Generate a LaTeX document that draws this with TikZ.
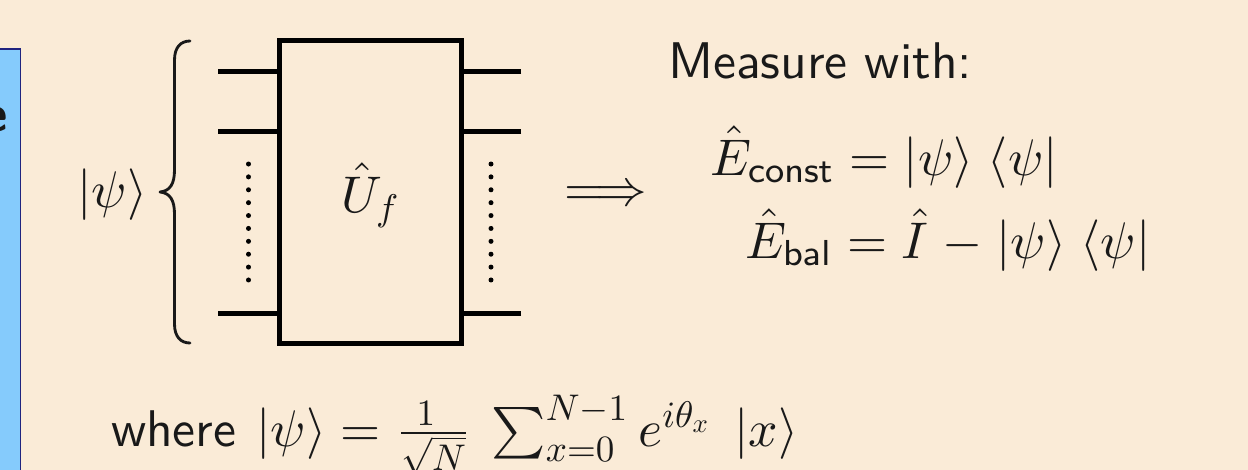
\documentclass[tikz,border=0pt]{standalone}
\usepackage{amsmath}
\usepackage{graphicx}
\usetikzlibrary{calc}
\definecolor{bgc}{HTML}{FAEBD7}
\definecolor{panel}{HTML}{85CBFC}
\definecolor{panelb}{HTML}{1F237F}
\renewcommand{\familydefault}{\sfdefault}
\newcommand{\sm}[1]{\scalebox{.72}{$#1$}}
\tikzset{
  wire/.style={line width=0.97pt},
  ubox/.style={draw,line width=0.97pt,minimum width=35.4pt,minimum height=58.6pt,inner sep=0pt},
  vdots/.style={line width=0.97pt,line cap=round,dash pattern=on 0pt off 2.5pt},
  lab/.style={inner sep=0pt,anchor=base west,text=black!90}
}
\begin{document}
\begin{tikzpicture}[x=0.194pt,y=-0.194pt]
\useasboundingbox (0,0) rectangle (1248,470);
\fill[bgc] (0,0) rectangle (1248,470);
\draw[panelb,line width=0.35pt,fill=panel] (-10,49) rectangle (20.5,480);
\begin{scope}
\clip (0,0) rectangle (1248,470);
\node[lab] (e) at (-20,131) {\textbf{e}};
\end{scope}
\node[ubox] (u) at (370.5,192) {};
\node[lab] (ulab) at (340,212) {$\hat U_{\sm{f}}$};
\coordinate (ia) at (218,71);
\coordinate (ib) at (218,131);
\coordinate (ic) at (218,313);
\coordinate (oa) at (521,71);
\coordinate (ob) at (521,131);
\coordinate (oc) at (521,313);
\foreach \w in {ia,ib,ic} \draw[wire] (\w) -- (\w -| u.west);
\foreach \w in {oa,ob,oc} \draw[wire] (\w) -- (\w -| u.east);
\coordinate (da) at (248.5,164);
\coordinate (db) at (248.5,281);
\coordinate (dc) at (491,164);
\coordinate (dd) at (491,281);
\draw[vdots] (da) -- (db);
\draw[vdots] (dc) -- (dd);
\coordinate (bt) at (190,41);
\coordinate (bb) at (190,343);
\coordinate (bm) at (160,192);
\draw[line width=0.55pt,black!90,line cap=round,line join=round]
  (bt) .. controls (181,41) and (174.5,47) .. (174.5,60)
  -- (174.5,170) .. controls (174.5,184) and (170,191) .. (bm)
  .. controls (170,193) and (174.5,200) .. (174.5,214)
  -- (174.5,324) .. controls (174.5,337) and (181,343) .. (bb);
\node[lab] (psi) at (76.5,207) {$|\psi\rangle$};
\node[lab] (arrow) at (563,205) {$\Longrightarrow$};
\node[lab] (meas) at (667,78) {Measure with:};
\node[lab] (econst) at (709,175) {$\hat E_{\mathsf{const}} = |\psi\rangle\;\langle\psi|$};
\node[lab] (ebal) at (744,258) {$\hat E_{\mathsf{bal}} = \hat I\hspace{.5pt} - \hspace{.5pt}|\psi\rangle\;\langle\psi|$};
\node[lab] (where) at (110,446) {where\hspace{.6pt} $|\psi\rangle = \frac{\sm{1}}{\sm{\sqrt{N}}}\,\hspace{.4pt}\sum_{\sm{x{=}0}}^{\sm{N{-}1}} e^{\sm{i\theta_{\sm{x}}}}\;\hspace{1.5pt}|x\rangle$};
\end{tikzpicture}
\end{document}
